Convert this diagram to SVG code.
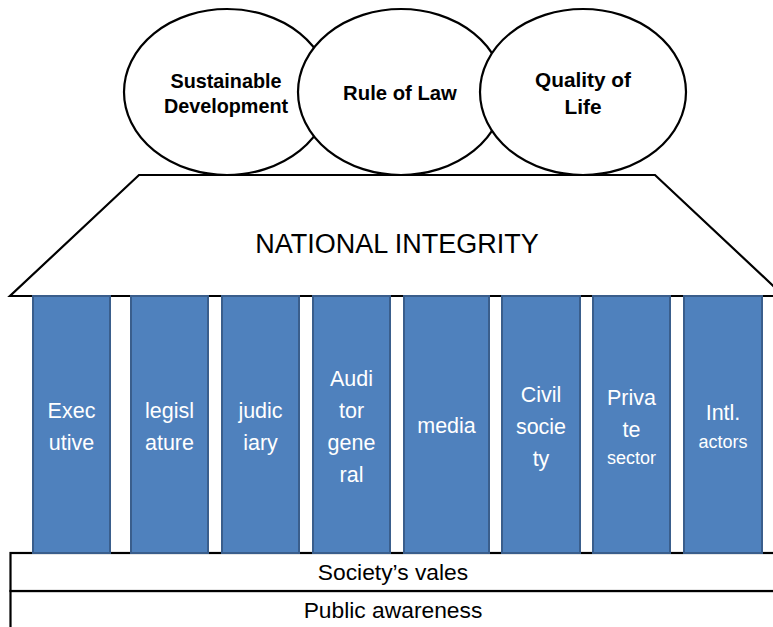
<svg xmlns="http://www.w3.org/2000/svg" width="773" height="627" viewBox="0 0 773 627">
<style>
.outline{fill:#fff;stroke:#000;stroke-width:2.2}
.pillar{fill:#4F81BD;stroke:#3A5E8C;stroke-width:2}
.t{font-family:"Liberation Sans",Arial,sans-serif;text-anchor:middle;fill:#000}
.b{font-weight:bold}
.w{fill:#fff;font-size:21.5px}
.s{font-size:18px}
</style>
<rect width="773" height="627" fill="#fff"/>
<g id="base-public-awareness">
<rect class="outline" x="10.5" y="591" width="780" height="50"/>
<text class="t" x="393" y="618" font-size="22.8">Public awareness</text>
</g>
<g id="base-society-values">
<rect class="outline" x="10.5" y="553" width="780" height="38"/>
<text class="t" x="393" y="580" font-size="22.8">Society’s vales</text>
</g>
<g id="roof">
<polygon class="outline" points="139,175 655,175 784,296 10,296"/>
<text class="t" x="397" y="253" font-size="27">NATIONAL INTEGRITY</text>
</g>
<g id="goal-sustainable-development">
<ellipse class="outline" cx="227" cy="92" rx="103" ry="83"/>
<text class="t b" x="226" y="88" font-size="19.8">Sustainable</text>
<text class="t b" x="226" y="113" font-size="19.8">Development</text>
</g>
<g id="goal-rule-of-law">
<ellipse class="outline" cx="401" cy="92" rx="103" ry="83"/>
<text class="t b" x="400" y="100" font-size="20.3">Rule of Law</text>
</g>
<g id="goal-quality-of-life">
<ellipse class="outline" cx="583" cy="92" rx="103" ry="83"/>
<text class="t b" x="583" y="87" font-size="20.8">Quality of</text>
<text class="t b" x="583" y="114" font-size="20.8">Life</text>
</g>
<g id="pillar-executive">
<rect class="pillar" x="33" y="296" width="77" height="257"/>
<text class="t w" x="71.5" y="418">Exec</text>
<text class="t w" x="71.5" y="450">utive</text>
</g>
<g id="pillar-legislature">
<rect class="pillar" x="131" y="296" width="77" height="257"/>
<text class="t w" x="169.5" y="418">legisl</text>
<text class="t w" x="169.5" y="450">ature</text>
</g>
<g id="pillar-judiciary">
<rect class="pillar" x="222" y="296" width="77" height="257"/>
<text class="t w" x="260.5" y="418">judic</text>
<text class="t w" x="260.5" y="450">iary</text>
</g>
<g id="pillar-auditor-general">
<rect class="pillar" x="313" y="296" width="77" height="257"/>
<text class="t w" x="351.5" y="386">Audi</text>
<text class="t w" x="351.5" y="418">tor</text>
<text class="t w" x="351.5" y="450">gene</text>
<text class="t w" x="351.5" y="482">ral</text>
</g>
<g id="pillar-media">
<rect class="pillar" x="404" y="296" width="85" height="257"/>
<text class="t w" x="446.5" y="433">media</text>
</g>
<g id="pillar-civil-society">
<rect class="pillar" x="502" y="296" width="78" height="257"/>
<text class="t w" x="541" y="402">Civil</text>
<text class="t w" x="541" y="434">socie</text>
<text class="t w" x="541" y="466">ty</text>
</g>
<g id="pillar-private-sector">
<rect class="pillar" x="593" y="296" width="77" height="257"/>
<text class="t w" x="631.5" y="405">Priva</text>
<text class="t w" x="631.5" y="437">te</text>
<text class="t w s" x="631.5" y="464">sector</text>
</g>
<g id="pillar-intl-actors">
<rect class="pillar" x="684" y="296" width="78" height="257"/>
<text class="t w" x="723" y="420">Intl.</text>
<text class="t w s" x="723" y="448">actors</text>
</g>
</svg>
